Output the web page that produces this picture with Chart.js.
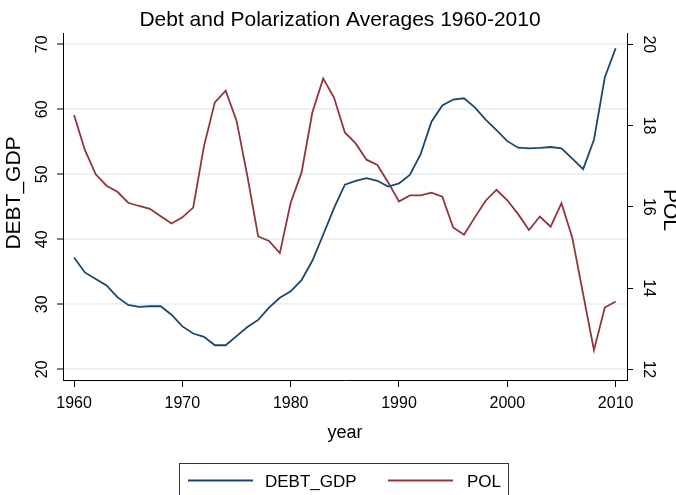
<!DOCTYPE html>
<html>
<head>
<meta charset="utf-8">
<script src="https://cdn.jsdelivr.net/npm/chart.js@4"></script>
<style>
  body { margin: 0; background: #fff; }
  #wrap { width: 676px; height: 495px; }
</style>
</head>
<body>
<div id="wrap"><canvas id="myChart" width="676" height="495"></canvas></div>
<script>
// data
let years = [];
for (let y = 1960; y <= 2010; y++) years.push(y);
let debtGdp = [37.2, 34.9, 33.9, 32.9, 31.1, 29.9, 29.6, 29.7, 29.7, 28.4,
               26.6, 25.5, 25.0, 23.7, 23.7, 25.1, 26.5, 27.6, 29.5, 31.0,
               32.0, 33.7, 36.7, 40.7, 44.8, 48.4, 49.0, 49.4, 49.0, 48.1,
               48.6, 49.9, 53.1, 58.1, 60.6, 61.5, 61.7, 60.3, 58.4, 56.8,
               55.1, 54.1, 54.0, 54.05, 54.2, 54.0, 52.4, 50.8, 55.3, 64.9, 69.4];
let pol = [18.26, 17.40, 16.80, 16.52, 16.37, 16.10, 16.02, 15.95, 15.77, 15.59,
           15.74, 15.98, 17.50, 18.57, 18.86, 18.12, 16.76, 15.27, 15.16, 14.86,
           16.10, 16.84, 18.32, 19.16, 18.69, 17.83, 17.56, 17.16, 17.03, 16.60,
           16.13, 16.28, 16.28, 16.35, 16.25, 15.49, 15.31, 15.74, 16.15, 16.42,
           16.16, 15.82, 15.43, 15.76, 15.51, 16.09, 15.24, 13.85, 12.47, 13.52, 13.67];
let xTicks = [1960, 1970, 1980, 1990, 2000, 2010];
let leftTicks = [20, 30, 40, 50, 60, 70];
let rightTicks = [12, 14, 16, 18, 20];

const navy = '#1a476f';
const maroon = '#90353b';
const font = '"Liberation Sans", Arial, sans-serif';

// title, axis titles, rotated y tick labels, legend box
const extras = {
    id: 'extras',
    afterDraw(chart) {
        const c = chart.ctx;
        const ys = chart.scales.y, y2 = chart.scales.y2;
        c.save();
        c.fillStyle = '#000';
        c.textAlign = 'center';
        c.textBaseline = 'middle';
        c.font = '21px ' + font;
        c.fillText('Debt and Polarization Averages 1960-2010', 340, 20);
        c.font = '18px ' + font;
        c.fillText('year', 345, 433);

        // left
        leftTicks.forEach(function (v) {
            c.save();
            c.translate(43, ys.getPixelForValue(v));
            c.rotate(-Math.PI / 2);
            c.font = '16px ' + font;
            c.fillText(String(v), 0, 0);
            c.restore();
        });
        c.save();
        c.translate(14, 193);
        c.rotate(-Math.PI / 2);
        c.font = '21px ' + font;
        c.fillText('DEBT_GDP', 0, 0);
        c.restore();

        // right
        rightTicks.forEach(function (v) {
            c.save();
            c.translate(648, y2.getPixelForValue(v));
            c.rotate(Math.PI / 2);
            c.font = '16px ' + font;
            c.fillText(String(v), 0, 0);
            c.restore();
        });
        c.save();
        c.translate(670, 210);
        c.rotate(Math.PI / 2);
        c.font = '21px ' + font;
        c.fillText('POL', 0, 0);
        c.restore();

        // legend
        c.strokeStyle = '#333';
        c.lineWidth = 1;
        c.strokeRect(179.5, 463.5, 329, 40);
        const items = [
            { label: chart.data.datasets[0].label, color: navy, x: 188, tx: 265 },
            { label: chart.data.datasets[1].label, color: maroon, x: 388, tx: 467 }
        ];
        items.forEach(function (it) {
            c.strokeStyle = it.color;
            c.lineWidth = 1.8;
            c.beginPath();
            c.moveTo(it.x, 480.5);
            c.lineTo(it.x + 65, 480.5);
            c.stroke();
            c.textAlign = 'left';
            c.font = '17px ' + font;
            c.fillText(it.label, it.tx, 482);
        });
        c.restore();
    }
};

var ct = document.getElementById('myChart');
let chart = new Chart(ct, {
    type: 'line',
    data: {
        datasets: [{
            label: 'DEBT_GDP',
            data: years.map((x, i) => ({ x: x, y: debtGdp[i] })),
            borderColor: navy,
            borderWidth: 1.8,
            pointRadius: 0,
            tension: 0,
            yAxisID: 'y'
        },
        {
            label: 'POL',
            data: years.map((x, i) => ({ x: x, y: pol[i] })),
            borderColor: maroon,
            borderWidth: 1.8,
            pointRadius: 0,
            tension: 0,
            yAxisID: 'y2'
        }]
    },
    options: {
        responsive: false,
        animation: false,
        layout: { padding: { top: 33, left: 0, right: 0, bottom: 0 } },
        plugins: {
            legend: { display: false },
            title: { display: false },
            tooltip: { enabled: false }
        },
        scales: {
            x: {
                type: 'linear',
                min: 1958.98,
                max: 2011.05,
                afterBuildTicks: s => { s.ticks = xTicks.map(v => ({ value: v })); },
                afterFit: s => { s.height = 115; },
                grid: { drawOnChartArea: false, tickLength: 7, color: '#000' },
                border: { display: true, color: '#000', width: 1 },
                ticks: {
                    color: '#000',
                    font: { family: font, size: 16 },
                    padding: 7,
                    maxRotation: 0,
                    callback: v => String(v)
                }
            },
            y: {
                position: 'left',
                min: 18.35,
                max: 71.74,
                afterBuildTicks: s => { s.ticks = leftTicks.map(v => ({ value: v })); },
                afterFit: s => { s.width = 63; },
                grid: {
                    color: '#eaf2f3',
                    lineWidth: 2,
                    tickColor: '#000',
                    tickLength: 6,
                    tickWidth: 1
                },
                border: { display: true, color: '#000', width: 1 },
                ticks: { display: false }
            },
            y2: {
                position: 'right',
                min: 11.737,
                max: 20.278,
                afterBuildTicks: s => { s.ticks = rightTicks.map(v => ({ value: v })); },
                afterFit: s => { s.width = 49; },
                grid: {
                    drawOnChartArea: false,
                    tickColor: '#000',
                    tickLength: 6,
                    tickWidth: 1
                },
                border: { display: true, color: '#000', width: 1 },
                ticks: { display: false }
            }
        }
    },
    plugins: [extras]
});
</script>
</body>
</html>
